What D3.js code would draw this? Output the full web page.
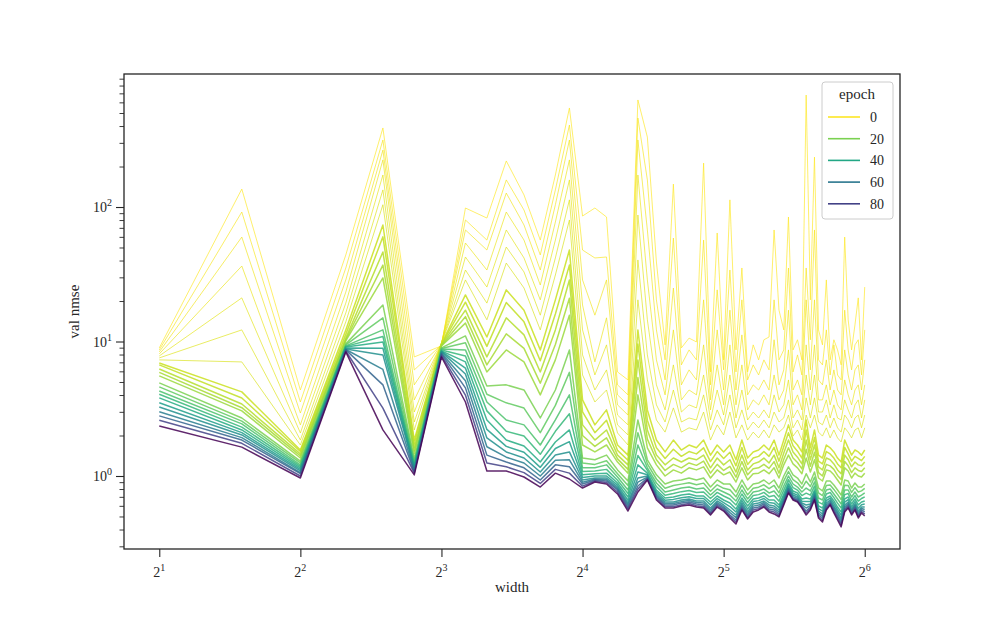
<!DOCTYPE html>
<html><head><meta charset="utf-8">
<script src="https://cdn.jsdelivr.net/npm/d3@7"></script>
<style>
body{margin:0;background:#fff}
text{font-family:"Liberation Serif","DejaVu Serif",serif;fill:#262626}
</style>
</head><body>
<svg id="chart" width="1000" height="618"></svg>
<script>
// ---- data ----
const widths = [2,3,4,5,6,7,8,9,10,11,12,13,14,15,16,17,18,19,20,21,22,23,24,25,26,27,28,29,30,31,32,33,34,35,36,37,38,39,40,41,42,43,44,45,46,47,48,49,50,51,52,53,54,55,56,57,58,59,60,61,62,63,64];
const epochs = [0,1,2,3,4,5,6,8,11,15,20,28,38,50,68,99];
// val nmse, one row per width, one column per epoch above
const nmse = [
[8.96,8.66,8.37,8.09,7.81,7.55,7.30,6.93,6.25,5.55,4.92,4.29,3.81,3.26,2.80,2.35],
[136,91.8,59.8,36.4,21.1,12.2,7.05,4.22,3.43,3.05,2.70,2.44,2.20,2.02,1.85,1.64],
[4.36,3.55,2.94,2.40,2.09,1.85,1.70,1.56,1.46,1.36,1.29,1.21,1.15,1.09,1.04,0.966],
[44.0,35.2,28.7,23.3,19.3,16.3,14.0,12.2,10.6,10.1,9.60,9.28,9.12,8.81,8.66,8.37],
[387,315,265,224,173,134,104,73.5,46.3,29.7,18.7,12.2,9.93,7.95,4.76,2.20],
[7.68,6.15,4.76,3.68,2.99,2.52,2.20,1.85,1.62,1.46,1.34,1.25,1.19,1.13,1.07,1.02],
[9.28,9.44,9.60,9.60,9.76,9.76,9.76,9.60,9.44,9.28,8.96,8.81,8.51,8.37,8.09,7.68],
[98.3,80.1,67.5,54.0,42.5,34.0,28.7,22.2,17.1,13.7,11.0,8.66,7.05,5.74,4.52,3.55],
[82.8,56.8,47.9,34.0,25.4,19.3,14.5,10.8,7.68,5.94,4.67,3.55,2.61,1.92,1.43,1.09],
[220,159,127,91.8,67.5,50.4,38.3,24.2,15.0,8.66,4.76,2.61,1.85,1.51,1.27,1.09],
[123,95.0,73.5,56.8,41.8,32.9,25.0,17.1,11.2,7.05,4.36,2.40,1.67,1.36,1.15,0.983],
[56.8,44.0,34.0,26.3,20.4,15.7,12.2,8.66,5.94,4.01,2.70,1.70,1.27,1.07,0.934,0.828],
[173,134,104,77.3,56.8,41.8,31.2,20.4,12.2,7.30,4.36,2.61,1.79,1.43,1.21,1.05],
[545,407,315,224,159,113,80.1,47.9,28.7,15.7,8.66,4.01,2.20,1.51,1.17,0.950],
[85.7,47.9,28.7,18.7,12.2,7.95,5.64,3.68,2.40,1.70,1.36,1.15,1.02,0.934,0.872,0.814],
[98.3,41.8,15.7,7.05,5.64,4.36,3.55,2.40,1.85,1.51,1.32,1.15,1.04,0.966,0.934,0.902],
[84.3,42.5,28.7,15.0,9.44,6.15,4.36,3.10,2.20,1.70,1.43,1.21,1.05,0.966,0.918,0.872],
[5.94,4.76,4.01,3.38,2.84,2.40,2.09,1.70,1.43,1.27,1.11,0.983,0.887,0.828,0.787,0.735],
[5.18,4.01,3.38,2.84,2.40,2.02,1.70,1.43,1.21,1.05,0.918,0.787,0.698,0.630,0.588,0.549],
[625,459,315,173,87.2,40.4,20.4,12.2,7.30,4.01,2.61,1.70,1.21,0.966,0.843,0.760],
[331,159,67.5,28.7,14.5,7.95,5.18,3.10,2.20,1.62,1.32,1.15,1.05,1.00,0.966,0.934],
[39.0,20.4,12.2,7.30,4.76,3.38,2.61,1.85,1.43,1.21,1.02,0.887,0.787,0.735,0.698,0.663],
[9.44,7.30,5.18,4.01,3.10,2.52,2.12,1.51,1.21,1.00,0.872,0.760,0.686,0.641,0.609,0.578],
[148,58.8,25.0,12.2,6.70,4.36,3.21,1.85,1.36,1.11,0.918,0.787,0.698,0.641,0.609,0.578],
[8.96,6.70,4.76,3.68,2.99,2.52,2.12,1.56,1.27,1.05,0.934,0.814,0.722,0.663,0.630,0.598],
[10.6,8.66,6.15,4.36,3.38,2.70,2.28,1.70,1.36,1.15,0.966,0.828,0.735,0.675,0.641,0.609],
[9.93,7.30,5.18,4.01,3.21,2.61,2.20,1.62,1.32,1.11,0.934,0.800,0.710,0.652,0.619,0.588],
[212,56.8,20.4,9.44,5.64,4.01,2.99,1.85,1.43,1.17,0.966,0.814,0.710,0.652,0.609,0.578],
[5.94,4.76,3.68,3.10,2.61,2.20,1.85,1.43,1.15,0.966,0.828,0.722,0.641,0.578,0.540,0.513],
[64.1,24.2,12.2,6.70,4.36,3.10,2.40,1.70,1.36,1.11,0.934,0.800,0.710,0.652,0.619,0.588],
[7.30,6.15,4.36,3.38,2.84,2.40,2.02,1.51,1.21,1.02,0.872,0.760,0.663,0.609,0.578,0.549],
[113,34.0,17.1,9.44,5.64,4.01,2.99,1.70,1.32,1.07,0.872,0.722,0.630,0.559,0.513,0.487],
[8.66,5.94,4.36,3.38,2.70,2.28,1.92,1.32,1.07,0.902,0.760,0.652,0.568,0.513,0.471,0.440],
[35.2,20.4,11.2,6.70,4.36,3.10,2.40,1.85,1.43,1.15,0.934,0.787,0.686,0.630,0.588,0.559],
[5.94,5.18,4.01,3.10,2.61,2.20,1.85,1.36,1.11,0.934,0.787,0.675,0.598,0.540,0.504,0.479],
[9.44,6.70,4.76,3.68,2.99,2.52,2.12,1.51,1.23,1.04,0.872,0.760,0.675,0.619,0.578,0.540],
[7.30,5.64,4.36,3.38,2.70,2.28,1.92,1.56,1.27,1.05,0.887,0.774,0.686,0.630,0.588,0.559],
[10.3,7.30,5.18,4.01,3.10,2.61,2.20,1.70,1.36,1.11,0.934,0.800,0.710,0.652,0.619,0.588],
[10.8,6.15,4.36,3.38,2.70,2.28,1.92,1.56,1.25,1.04,0.872,0.748,0.663,0.609,0.568,0.540],
[67.5,20.4,10.3,5.64,4.01,2.99,2.40,1.85,1.43,1.15,0.934,0.774,0.663,0.598,0.559,0.522],
[17.1,7.30,4.76,3.68,2.99,2.52,2.12,1.43,1.15,0.966,0.814,0.698,0.609,0.559,0.522,0.496],
[12.2,8.66,6.15,4.36,3.38,2.70,2.28,1.85,1.48,1.21,1.00,0.843,0.735,0.675,0.641,0.609],
[84.3,35.2,17.1,8.66,5.18,3.68,2.84,2.40,1.85,1.43,1.17,1.00,0.887,0.828,0.787,0.748],
[8.66,5.94,4.36,3.38,2.70,2.28,1.98,1.85,1.51,1.23,1.02,0.872,0.774,0.722,0.686,0.663],
[10.3,7.95,5.18,4.01,3.10,2.61,2.20,1.70,1.38,1.15,0.966,0.828,0.748,0.698,0.663,0.641],
[7.30,5.64,4.01,3.10,2.61,2.20,1.85,1.51,1.23,1.04,0.872,0.760,0.675,0.630,0.598,0.578],
[680,35.2,20.4,9.44,5.64,3.81,2.84,2.61,1.85,1.36,1.04,0.814,0.686,0.609,0.549,0.513],
[20.4,10.3,6.15,4.36,3.38,2.70,2.28,1.62,1.32,1.07,0.902,0.774,0.675,0.619,0.588,0.559],
[235,67.5,20.4,9.44,5.64,3.81,2.84,2.20,1.70,1.32,1.07,0.902,0.787,0.735,0.698,0.663],
[12.2,7.30,5.18,3.68,2.99,2.52,2.12,1.43,1.17,0.966,0.814,0.686,0.598,0.549,0.513,0.487],
[9.44,6.70,4.76,3.68,2.99,2.40,1.98,1.36,1.11,0.918,0.774,0.663,0.578,0.522,0.487,0.455],
[28.7,12.2,7.30,4.76,3.68,2.84,2.28,1.70,1.36,1.11,0.918,0.787,0.686,0.630,0.588,0.559],
[7.30,5.64,4.36,3.38,2.70,2.28,1.92,1.62,1.32,1.09,0.918,0.800,0.710,0.663,0.630,0.609],
[10.3,9.44,6.15,4.36,3.38,2.70,2.20,1.51,1.23,1.02,0.857,0.735,0.652,0.598,0.559,0.531],
[8.66,5.64,4.36,3.38,2.70,2.28,1.92,1.36,1.11,0.934,0.787,0.675,0.588,0.540,0.504,0.471],
[6.70,5.18,4.01,3.10,2.61,2.12,1.79,1.27,1.04,0.857,0.722,0.619,0.540,0.487,0.447,0.418],
[59.8,17.1,8.66,5.18,3.68,2.84,2.28,1.85,1.43,1.15,0.934,0.787,0.675,0.609,0.568,0.540],
[14.5,8.66,5.64,4.01,3.10,2.61,2.12,1.62,1.32,1.09,0.918,0.787,0.698,0.641,0.609,0.578],
[8.66,6.15,4.36,3.38,2.70,2.28,1.92,1.43,1.17,0.966,0.814,0.698,0.619,0.568,0.540,0.513],
[13.3,9.44,6.15,4.36,3.38,2.70,2.20,1.56,1.27,1.05,0.887,0.760,0.675,0.619,0.588,0.559],
[21.1,10.3,6.70,4.76,3.68,2.84,2.28,1.51,1.21,1.00,0.828,0.698,0.609,0.549,0.513,0.487],
[7.30,5.64,4.36,3.38,2.70,2.28,1.92,1.43,1.19,0.983,0.828,0.722,0.641,0.588,0.559,0.531],
[25.4,12.2,7.30,4.76,3.68,2.84,2.28,1.56,1.27,1.05,0.872,0.748,0.652,0.588,0.540,0.504]
];
// further epochs read from the denser part of the bundle
const epochs2 = [9,13,24,33,44,58,80];
const nmse2 = [
[6.7,5.9,4.6,4.05,3.5,3.0,2.6],
[3.8,3.22,2.56,2.31,2.1,1.93,1.75],
[1.52,1.41,1.25,1.18,1.12,1.06,1.0],
[11.3,10.3,9.45,9.2,8.95,8.72,8.5],
[60,37,15.0,10.9,8.9,6.2,3.2],
[1.74,1.54,1.29,1.22,1.16,1.10,1.05],
[9.5,9.35,8.88,8.66,8.44,8.2,7.9],
[19.6,15.3,9.8,7.8,6.35,5.1,4.0],
[9.2,6.7,4.05,3.05,2.22,1.65,1.25],
[19.5,11.4,3.5,2.15,1.66,1.38,1.17],
[14.0,8.9,3.2,1.98,1.5,1.25,1.06],
[7.2,4.9,2.1,1.45,1.16,1.0,0.88],
[16.0,9.5,3.35,2.15,1.6,1.31,1.12],
[37,21,5.9,2.9,1.8,1.32,1.05],
[3.0,2.0,1.25,1.08,0.975,0.90,0.84],
[2.1,1.66,1.22,1.09,1.0,0.95,0.918],
[2.6,1.92,1.3,1.12,1.0,0.94,0.895],
[1.55,1.34,1.04,0.93,0.855,0.805,0.76],
[1.31,1.12,0.85,0.74,0.66,0.61,0.57],
[9.6,5.4,2.1,1.42,1.07,0.9,0.8],
[2.6,1.88,1.23,1.10,1.02,0.98,0.95],
[1.62,1.32,0.95,0.835,0.76,0.715,0.68],
[1.35,1.1,0.81,0.72,0.66,0.625,0.592],
[1.58,1.22,0.85,0.74,0.67,0.625,0.592],
[1.4,1.15,0.87,0.765,0.69,0.645,0.612],
[1.52,1.25,0.89,0.78,0.70,0.657,0.625],
[1.46,1.2,0.86,0.755,0.68,0.635,0.602],
[1.62,1.29,0.885,0.76,0.68,0.63,0.592],
[1.28,1.05,0.77,0.68,0.61,0.558,0.525],
[1.52,1.22,0.86,0.755,0.68,0.635,0.602],
[1.35,1.1,0.81,0.71,0.635,0.592,0.562],
[1.5,1.18,0.79,0.675,0.593,0.535,0.50],
[1.19,0.98,0.70,0.608,0.54,0.49,0.455],
[1.63,1.28,0.855,0.735,0.656,0.608,0.572],
[1.22,1.02,0.725,0.635,0.567,0.52,0.49],
[1.36,1.13,0.81,0.715,0.645,0.597,0.558],
[1.4,1.15,0.826,0.727,0.656,0.608,0.572],
[1.52,1.22,0.86,0.755,0.68,0.635,0.602],
[1.4,1.14,0.805,0.702,0.635,0.588,0.553],
[1.63,1.28,0.85,0.715,0.628,0.577,0.54],
[1.29,1.05,0.75,0.65,0.582,0.54,0.508],
[1.66,1.33,0.92,0.785,0.703,0.657,0.625],
[2.1,1.62,1.08,0.94,0.855,0.806,0.767],
[1.68,1.36,0.94,0.82,0.745,0.703,0.675],
[1.53,1.26,0.89,0.785,0.72,0.68,0.652],
[1.36,1.13,0.81,0.715,0.65,0.613,0.588],
[2.2,1.58,0.915,0.745,0.645,0.578,0.53],
[1.46,1.18,0.835,0.72,0.645,0.603,0.573],
[1.93,1.5,0.98,0.84,0.76,0.716,0.68],
[1.29,1.06,0.748,0.64,0.572,0.53,0.5],
[1.23,1.0,0.715,0.618,0.548,0.503,0.47],
[1.52,1.22,0.85,0.735,0.656,0.608,0.572],
[1.46,1.19,0.857,0.754,0.685,0.646,0.62],
[1.36,1.12,0.795,0.69,0.624,0.578,0.545],
[1.23,1.01,0.73,0.628,0.562,0.522,0.488],
[1.15,0.94,0.668,0.578,0.512,0.466,0.432],
[1.63,1.28,0.855,0.727,0.64,0.588,0.555],
[1.46,1.19,0.85,0.74,0.668,0.625,0.592],
[1.29,1.06,0.755,0.655,0.59,0.553,0.525],
[1.4,1.15,0.82,0.715,0.645,0.602,0.572],
[1.35,1.1,0.76,0.65,0.575,0.53,0.5],
[1.3,1.08,0.775,0.68,0.612,0.573,0.545],
[1.4,1.15,0.808,0.70,0.618,0.563,0.52]
];
const xTicks = [2,4,8,16,32,64];
const xTickExp = ["1","2","3","4","5","6"];
const yTicks = [1,10,100];
const yTickExp = ["0","1","2"];
const yMinor = [0.3,0.4,0.5,0.6,0.7,0.8,0.9,2,3,4,5,6,7,8,9,20,30,40,50,60,70,80,90,200,300,400,500,600,700,800,900];
const legendEpochs = [0,20,40,60,80];
const maxEpoch = 99;

// ---- chart ----
const L=124,R=900,T=74,B=549;
const svg = d3.select("#chart");
const x = d3.scaleLog().base(2).domain([Math.pow(2,0.75),Math.pow(2,6.25)]).range([L,R]);
const y = d3.scaleLog().domain([Math.pow(10,-0.5428),Math.pow(10,2.989)]).range([B,T]);
const color = e => d3.interpolateViridis(1 - e/maxEpoch);

svg.append("defs").append("clipPath").attr("id","clip")
  .append("rect").attr("x",L).attr("y",T).attr("width",R-L).attr("height",B-T);

const series = epochs.map((e,j)=>({epoch:e, pts: widths.map((w,i)=>[w, nmse[i][j]])}))
  .concat(epochs2.map((e,j)=>({epoch:e, pts: widths.map((w,i)=>[w, nmse2[i][j]])})))
  .sort((a,b)=>a.epoch-b.epoch);
const line = d3.line().x(d=>x(d[0])).y(d=>y(d[1]));
svg.append("g").attr("clip-path","url(#clip)")
  .selectAll("path").data(series).join("path")
  .attr("d",d=>line(d.pts))
  .attr("fill","none")
  .attr("stroke",d=>color(d.epoch))
  .attr("stroke-width",d=>d.epoch<8?0.8:1.5)
  .attr("stroke-opacity",0.85)
  .attr("stroke-linejoin","round");

// axes
const axisColor="#262626";
const gx = svg.append("g").attr("transform",`translate(0,${B})`)
  .call(d3.axisBottom(x).tickValues(xTicks).tickSize(8).tickSizeOuter(0).tickFormat(""));
gx.select(".domain").remove();
gx.selectAll("line").attr("stroke",axisColor).attr("stroke-width",1.1);
xTicks.forEach((t,i)=>{
  const tx = svg.append("text").attr("x",x(t)).attr("y",B+28).attr("text-anchor","middle").attr("font-size",14);
  tx.append("tspan").text("2");
  tx.append("tspan").attr("dy",-6).attr("font-size",10).text(xTickExp[i]);
});

const gy = svg.append("g").attr("transform",`translate(${L},0)`)
  .call(d3.axisLeft(y).tickValues(yTicks).tickSize(8).tickSizeOuter(0).tickFormat(""));
gy.select(".domain").remove();
gy.selectAll("line").attr("stroke",axisColor).attr("stroke-width",1.1);
const gym = svg.append("g").attr("transform",`translate(${L},0)`)
  .call(d3.axisLeft(y).tickValues(yMinor).tickSize(4.5).tickSizeOuter(0).tickFormat(""));
gym.select(".domain").remove();
gym.selectAll("line").attr("stroke",axisColor).attr("stroke-width",0.9);
yTicks.forEach((t,i)=>{
  const ty = svg.append("text").attr("x",L-12).attr("y",y(t)+5).attr("text-anchor","end").attr("font-size",14);
  ty.append("tspan").text("10");
  ty.append("tspan").attr("dy",-6).attr("font-size",10).text(yTickExp[i]);
});

svg.append("rect").attr("x",L).attr("y",T).attr("width",R-L).attr("height",B-T)
  .attr("fill","none").attr("stroke",axisColor).attr("stroke-width",1.3);

svg.append("text").attr("x",(L+R)/2).attr("y",592).attr("text-anchor","middle").attr("font-size",15).text("width");
svg.append("text").attr("transform",`translate(79,${(T+B)/2}) rotate(-90)`).attr("text-anchor","middle").attr("font-size",15).text("val nmse");

// legend
const lg = svg.append("g");
lg.append("rect").attr("x",822).attr("y",82).attr("width",71).attr("height",137).attr("rx",3)
  .attr("fill","#fff").attr("fill-opacity",0.85).attr("stroke","#cccccc").attr("stroke-width",1);
lg.append("text").attr("x",857).attr("y",99).attr("text-anchor","middle").attr("font-size",15).text("epoch");
legendEpochs.forEach((e,i)=>{
  const yy = 117 + i*21.7;
  lg.append("line").attr("x1",828).attr("x2",860).attr("y1",yy).attr("y2",yy)
    .attr("stroke",color(e)).attr("stroke-width",1.6);
  lg.append("text").attr("x",870).attr("y",yy+5).attr("font-size",14).text(e);
});
</script>
</body></html>
